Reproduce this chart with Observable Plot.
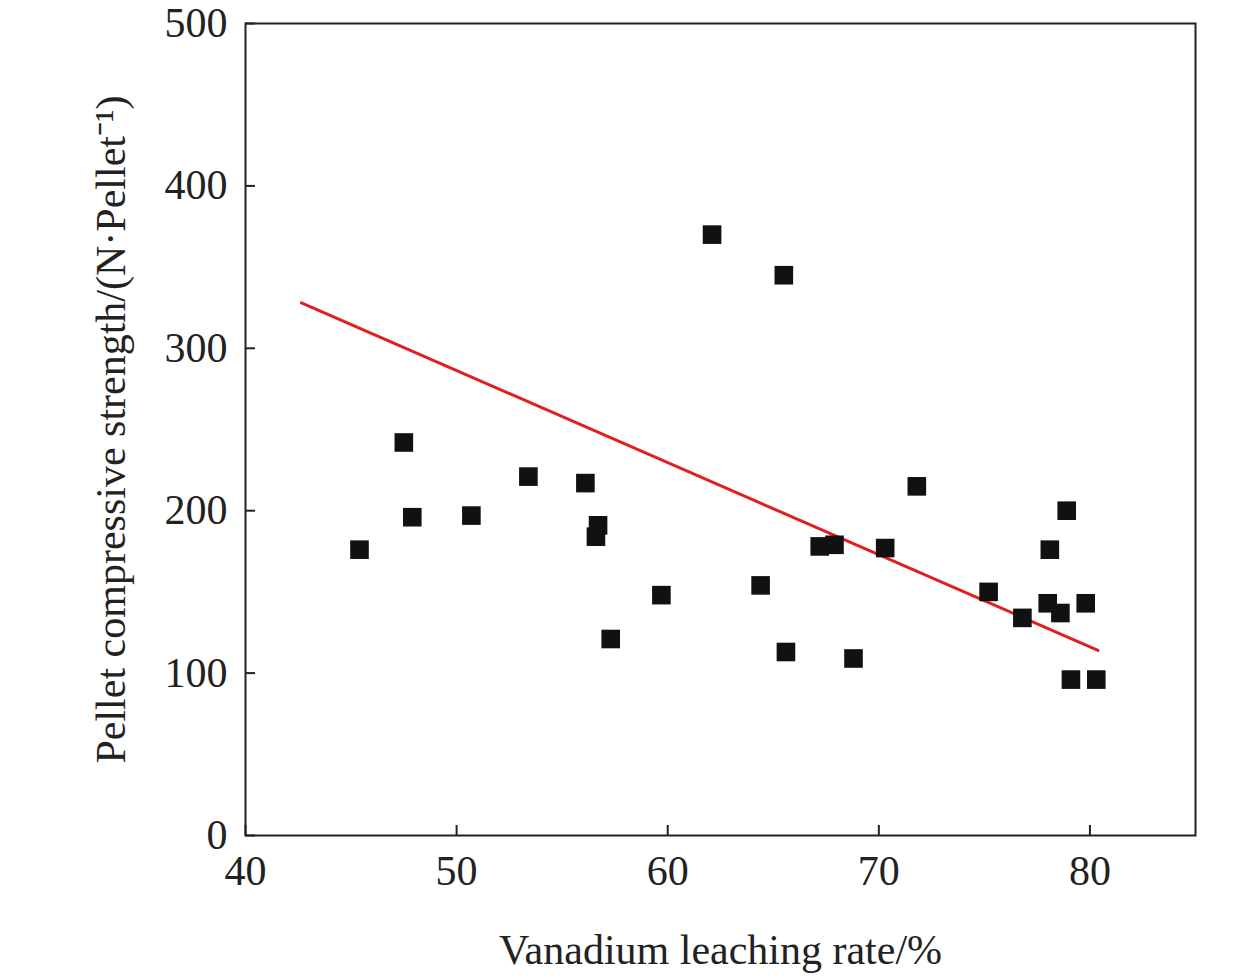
<!DOCTYPE html>
<html><head><meta charset="utf-8">
<script src="https://cdn.jsdelivr.net/npm/d3@7"></script>
<script src="https://cdn.jsdelivr.net/npm/@observablehq/plot@0.6"></script>
<style>body{margin:0;background:#fff}</style>
</head><body><div id="c"></div>
<script>
const leach=[45.4,47.5,47.9,50.7,53.4,56.1,56.6,56.7,57.3,59.7,62.1,64.4,65.5,65.6,67.2,67.9,68.8,70.3,71.8,75.2,76.8,78.0,78.1,78.6,78.9,79.1,79.8,80.3];
const strength=[176,242,196,197,221,217,184,191,121,148,370,154,345,113,178,179,109,177,215,150,134,143,176,137,200,96,143,96];
const fitX=[42.65,80.38];
const fitY=[328,114];
const xTicks=[40,50,60,70,80];
const yTicks=[0,100,200,300,400,500];
const pts=leach.map((x,i)=>({x,y:strength[i]}));
const fit=fitX.map((x,i)=>({x,y:fitY[i]}));
const chart=Plot.plot({
  width:1260,height:977,marginLeft:245,marginRight:65,marginTop:23,marginBottom:142,
  style:{fontFamily:"Liberation Serif",fontSize:"42px",color:"#222",background:"#fff"},
  x:{domain:[40,85]},y:{domain:[0,500]},
  marks:[
    Plot.frame({stroke:"#222",strokeWidth:2}),
    Plot.axisX({ticks:xTicks,tickSize:-10,tickPadding:30,tickFormat:d=>d,label:"Vanadium leaching rate/%",labelAnchor:"center",labelArrow:"none",labelOffset:128,fontSize:42,strokeWidth:2}),
    Plot.axisY({ticks:yTicks,tickSize:-10,tickPadding:28,tickFormat:d=>d,label:"Pellet compressive strength/(N·Pellet⁻¹)",labelAnchor:"center",labelArrow:"none",labelOffset:150,fontSize:42,strokeWidth:2}),
    Plot.line(fit,{x:"x",y:"y",stroke:"#e02020",strokeWidth:3}),
    Plot.dot(pts,{x:"x",y:"y",symbol:"square",r:10.5,fill:"#111",stroke:"none"})
  ]
});
document.getElementById("c").append(chart);
</script></body></html>
